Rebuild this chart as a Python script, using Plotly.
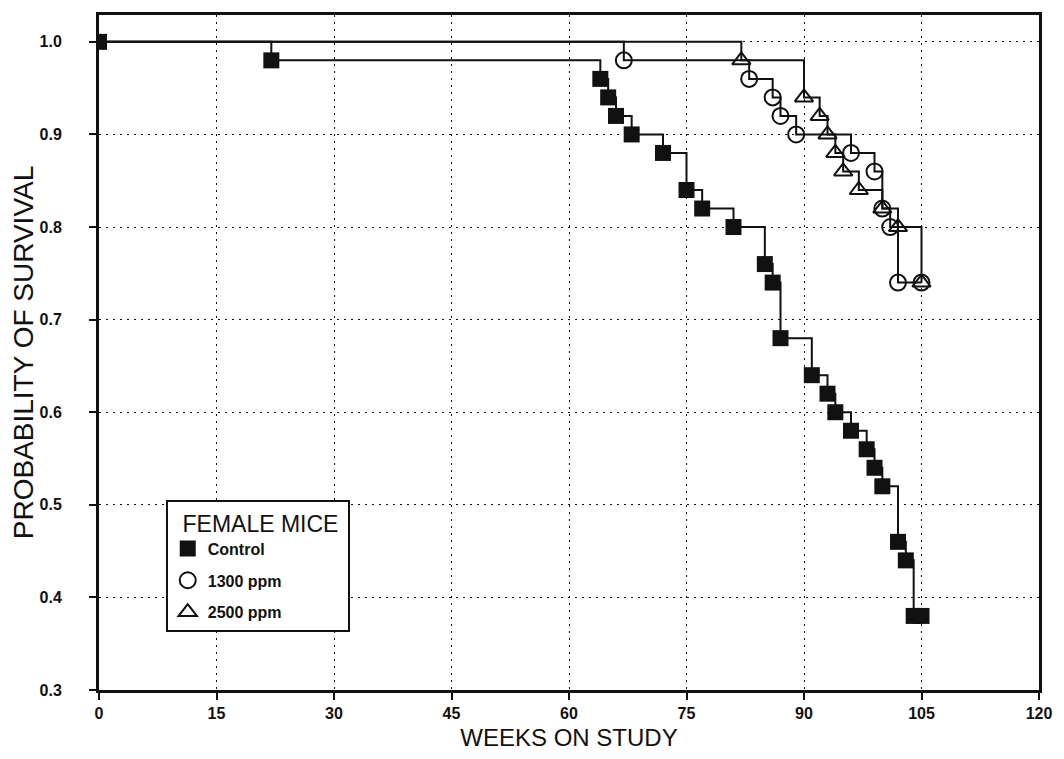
import plotly.graph_objects as go

# Data (Kaplan-Meier survival, female mice)
weeks_control = [0, 22, 64, 65, 66, 68, 72, 75, 77, 81, 85, 86, 87, 91, 93, 94, 96, 98, 99, 100, 102, 103, 104, 105]
surv_control = [1.0, 0.98, 0.96, 0.94, 0.92, 0.90, 0.88, 0.84, 0.82, 0.80, 0.76, 0.74, 0.68, 0.64, 0.62, 0.60,
                0.58, 0.56, 0.54, 0.52, 0.46, 0.44, 0.38, 0.38]

weeks_1300 = [0, 67, 83, 86, 87, 89, 96, 99, 100, 101, 102, 105]
surv_1300 = [1.0, 0.98, 0.96, 0.94, 0.92, 0.90, 0.88, 0.86, 0.82, 0.80, 0.74, 0.74]

weeks_2500 = [0, 82, 90, 92, 93, 94, 95, 97, 100, 102, 105]
surv_2500 = [1.0, 0.98, 0.94, 0.92, 0.90, 0.88, 0.86, 0.84, 0.82, 0.80, 0.74]

x_ticks = [0, 15, 30, 45, 60, 75, 90, 105, 120]
y_ticks = [0.3, 0.4, 0.5, 0.6, 0.7, 0.8, 0.9, 1.0]
y_tick_labels = ["0.3", "0.4", "0.5", "0.6", "0.7", "0.8", "0.9", "1.0"]

BLACK = "#111111"
FONT = "Liberation Sans"
NB = "\u00a0"

fig = go.Figure()

# step lines
for xs, ys in [(weeks_1300, surv_1300), (weeks_2500, surv_2500), (weeks_control, surv_control)]:
    fig.add_trace(go.Scatter(x=xs, y=ys, mode="lines", line=dict(color=BLACK, width=2, shape="hv"),
                             showlegend=False, hoverinfo="skip"))

# markers (legend entries)
fig.add_trace(go.Scatter(x=weeks_1300[1:], y=surv_1300[1:], mode="markers", name="1300 ppm",
                         legendgroup="g2", legendrank=2,
                         marker=dict(symbol="circle-open", size=16, color=BLACK, line=dict(width=2, color=BLACK))))
fig.add_trace(go.Scatter(x=weeks_2500[1:], y=surv_2500[1:], mode="markers", name="2500 ppm",
                         legendgroup="g3", legendrank=3,
                         marker=dict(symbol="triangle-up-open", size=16, color=BLACK, line=dict(width=2, color=BLACK))))
fig.add_trace(go.Scatter(x=weeks_control, y=surv_control, mode="markers", name="Control",
                         legendgroup="g1", legendrank=1,
                         marker=dict(symbol="square", size=16, color=BLACK, line=dict(width=0))))

fig.update_layout(
    width=1048, height=743,
    margin=dict(l=91, r=12, t=4, b=58),
    paper_bgcolor="white", plot_bgcolor="white",
    font=dict(family=FONT, color=BLACK),
    legend=dict(
        x=0.071, y=0.282, xanchor="left", yanchor="top",
        bgcolor="white", bordercolor=BLACK, borderwidth=2,
        title=dict(text=NB + NB + "FEMALE MICE" + NB, font=dict(size=23, family=FONT, color=BLACK, weight="normal")),
        font=dict(size=16, family=FONT, color=BLACK, weight="bold"),
        traceorder="grouped", tracegroupgap=8, itemsizing="trace",
    ),
    xaxis=dict(
        range=[0, 120], tickvals=x_ticks, ticktext=[str(v) for v in x_ticks],
        showgrid=True, gridcolor=BLACK, griddash="2px,5px", gridwidth=1,
        showline=True, linecolor=BLACK, linewidth=3, mirror=True,
        ticks="outside", ticklen=7, tickwidth=2, tickcolor=BLACK,
        ticklabeloverflow="allow",
        tickfont=dict(size=16, family=FONT, color=BLACK, weight="bold"),
        title=dict(text="WEEKS ON STUDY", font=dict(size=24, family=FONT, color=BLACK), standoff=8),
        zeroline=False,
    ),
    yaxis=dict(
        range=[0.3, 1.029], tickvals=y_ticks, ticktext=y_tick_labels,
        showgrid=True, gridcolor=BLACK, griddash="2px,5px", gridwidth=1,
        showline=True, linecolor=BLACK, linewidth=3, mirror=True,
        ticks="outside", ticklen=7, tickwidth=2, tickcolor=BLACK,
        ticklabelstandoff=24,
        tickfont=dict(size=16, family=FONT, color=BLACK, weight="bold"),
        title=dict(text="PROBABILITY OF SURVIVAL", font=dict(size=28, family=FONT, color=BLACK), standoff=7),
        zeroline=False,
    ),
)

fig.write_html("out.html")
